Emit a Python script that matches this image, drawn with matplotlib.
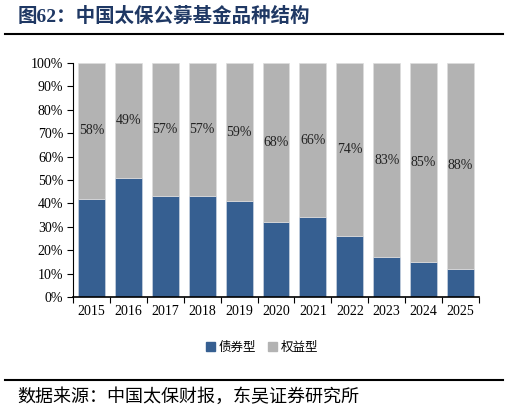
import matplotlib.pyplot as plt
import numpy as np

years = ["2015", "2016", "2017", "2018", "2019", "2020", "2021", "2022", "2023", "2024", "2025"]
bond = [42, 51, 43, 43, 41, 32, 34, 26, 17, 15, 12]
equity = [58, 49, 57, 57, 59, 68, 66, 74, 83, 85, 88]

BLUE = "#365F91"
GREY = "#B3B3B3"
SERIF = ["Liberation Serif", "Noto Sans CJK SC"]
CJK = ["Noto Sans CJK SC", "DejaVu Sans"]

fig = plt.figure(figsize=(5.09, 4.13), dpi=100)
ax = fig.add_axes([73 / 509, 1 - 297 / 413, 406 / 509, 234 / 413])

x = np.arange(len(years))
ax.bar(x, bond, width=0.73, color=BLUE, edgecolor="#C9D3E0", linewidth=0.5)
ax.bar(x, equity, width=0.73, bottom=bond, color=GREY, edgecolor="#DDDDDD", linewidth=0.5)

for xi, b, e in zip(x, bond, equity):
    ax.text(xi, b + e / 2, f"{e}%", ha="center", va="center",
            fontsize=10, family=SERIF, color="#222222")

ax.set_xlim(-0.5, len(years) - 0.5)
ax.set_ylim(0, 100)
ax.set_yticks(np.arange(0, 101, 10))
ax.set_yticklabels([f"{v}%" for v in range(0, 101, 10)], family=SERIF, fontsize=10)
ax.set_xticks(x)
ax.set_xticklabels(years, family=SERIF, fontsize=10)
ax.set_xticks(np.arange(-0.5, len(years)), minor=True)
ax.tick_params(axis="x", which="major", length=0, pad=6)
ax.tick_params(axis="x", which="minor", length=4, width=0.8, direction="out")
ax.tick_params(axis="y", length=4, width=0.8, pad=3)
for side in ("top", "right"):
    ax.spines[side].set_visible(False)
ax.spines["left"].set_linewidth(0.8)
ax.spines["bottom"].set_linewidth(1.2)

# legend
h1 = plt.Rectangle((0, 0), 1, 1, color=BLUE)
h2 = plt.Rectangle((0, 0), 1, 1, color=GREY)
fig.legend([h1, h2], ["债券型", "权益型"], loc="center", bbox_to_anchor=(262 / 509, 1 - 347 / 413),
           ncol=2, frameon=False, prop={"family": CJK, "size": 9},
           handlelength=0.7, handleheight=0.7, handletextpad=0.3, columnspacing=1.0)

# title, rules, source
fig.text(18 / 509, 1 - 16 / 413, "图62：中国太保公募基金品种结构", ha="left", va="center",
         fontsize=14, fontweight="bold", color="#1F3864", family=SERIF)
fig.add_artist(plt.Line2D([5 / 509, 503 / 509], [1 - 34 / 413] * 2, color="black", lw=1.5))
fig.add_artist(plt.Line2D([5 / 509, 503 / 509], [1 - 380 / 413] * 2, color="black", lw=1.5))
fig.text(17 / 509, 1 - 397 / 413, "数据来源：中国太保财报，东吴证券研究所", ha="left", va="center",
         fontsize=13, family=CJK, color="black")

fig.savefig("out.png", dpi=100)
